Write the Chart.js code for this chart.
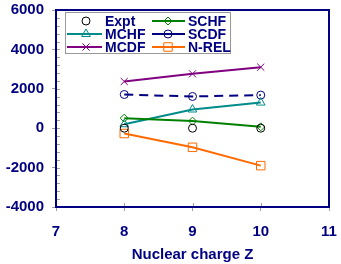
<!DOCTYPE html>
<html>
<head>
<meta charset="utf-8">
<script src="https://cdn.jsdelivr.net/npm/chart.js@4"></script>
<style>
  body { margin: 0; background: #fff; }
  #wrap { width: 341px; height: 264px; }
</style>
</head>
<body>
<div id="wrap"><canvas id="chart" width="341" height="264"></canvas></div>
<script>
// ----------------------------
// DATA
// ----------------------------
const zValues = [8, 9, 10];
const expt = [0, 0, 0];
const mchf = [200, 950, 1300];
const mcdf = [2370, 2760, 3100];
const schf = [510, 360, 70];
const scdf = [1710, 1610, 1680];
const nrel = [-270, -970, -1900];

const yTicks = [-4000, -2000, 0, 2000, 4000, 6000];
const xTicks = [7, 8, 9, 10, 11];

const NAVY = "#000080";
const FONT = "'Liberation Sans', Arial, sans-serif";

function pts(values) {
    return zValues.map((z, i) => ({ x: z, y: values[i] }));
}

function series(label, values, color, style, radius, extra) {
    return Object.assign({
        label: label,
        data: pts(values),
        borderColor: color,
        backgroundColor: "transparent",
        pointBorderColor: color,
        pointBackgroundColor: "transparent",
        pointStyle: style,
        pointRadius: radius,
        pointHoverRadius: radius,
        pointBorderWidth: 1,
        borderWidth: 2,
        tension: 0
    }, extra || {});
}

// legend order: two columns, filled row by row
const datasets = [
    series("Expt", expt, "#000000", "circle", 4, { showLine: false }),
    series("SCHF", schf, "#008000", "rectRot", 4),
    series("MCHF", mchf, "#008b8b", "triangle", 5),
    series("SCDF", scdf, NAVY, "circle", 4, { borderDash: [9, 6] }),
    series("MCDF", mcdf, "#800080", "crossRot", 5),
    series("N-REL", nrel, "#ff6a00", "rect", 6)
];

// ----------------------------
// FRAME, MINOR TICKS, LEGEND
// ----------------------------
const decorations = {
    id: "decorations",
    beforeDatasetsDraw(chart) {
        const ctx = chart.ctx;
        const a = chart.chartArea;
        const xs = chart.scales.x;
        const ys = chart.scales.y;
        ctx.save();
        ctx.strokeStyle = "#a0a0a0";
        ctx.lineWidth = 1;
        ctx.beginPath();
        for (let v = -4000; v <= 6000; v += 400) {
            const y = Math.round(ys.getPixelForValue(v)) + 0.5;
            ctx.moveTo(a.left, y);
            ctx.lineTo(a.left + 4, y);
        }
        xTicks.forEach(v => {
            const x = Math.round(xs.getPixelForValue(v)) + 0.5;
            ctx.moveTo(x, a.bottom);
            ctx.lineTo(x, a.bottom - 4);
        });
        ctx.stroke();
        ctx.strokeStyle = NAVY;
        ctx.lineWidth = 2;
        ctx.strokeRect(a.left, a.top, a.right - a.left, a.bottom - a.top);
        ctx.restore();
    },
    afterDraw(chart) {
        const ctx = chart.ctx;
        ctx.save();
        ctx.fillStyle = "#fff";
        ctx.fillRect(65.5, 12.5, 165, 41);
        ctx.strokeStyle = "#999";
        ctx.lineWidth = 1;
        ctx.strokeRect(65.5, 12.5, 165, 41);

        const cols = [{ x0: 67, x1: 102, m: 86, t: 105 }, { x0: 152, x1: 185, m: 168, t: 188 }];
        const rows = [21, 34, 47];
        ctx.font = "bold 14px " + FONT;
        ctx.textBaseline = "middle";
        datasets.forEach((ds, i) => {
            const c = cols[i % 2];
            const y = rows[Math.floor(i / 2)];
            if (ds.showLine !== false) {
                ctx.strokeStyle = ds.borderColor;
                ctx.lineWidth = 2;
                ctx.beginPath();
                ctx.moveTo(c.x0, y);
                ctx.lineTo(c.x1, y);
                ctx.stroke();
            }
            ctx.strokeStyle = ds.pointBorderColor;
            ctx.fillStyle = "rgba(0,0,0,0)";
            ctx.lineWidth = 1;
            Chart.helpers.drawPoint(ctx, {
                pointStyle: ds.pointStyle,
                radius: ds.pointRadius,
                borderWidth: 1,
                rotation: 0
            }, c.m, y);
            ctx.fillStyle = NAVY;
            ctx.fillText(ds.label, c.t, y + 1);
        });
        ctx.restore();
    }
};

new Chart(document.getElementById("chart").getContext("2d"), {
    type: "line",
    data: { datasets: datasets },
    plugins: [decorations],
    options: {
        responsive: false,
        animation: false,
        layout: { padding: { top: 10, right: 12, left: 0, bottom: 0 } },
        plugins: {
            legend: { display: false },
            tooltip: { enabled: false }
        },
        scales: {
            x: {
                type: "linear",
                min: 7,
                max: 11,
                afterBuildTicks: s => { s.ticks = xTicks.map(v => ({ value: v })); },
                afterFit: s => { s.height = 57; s.paddingLeft = 0; s.paddingRight = 0; },
                ticks: {
                    color: NAVY,
                    font: { family: FONT, size: 15, weight: "bold" },
                    padding: 12,
                    callback: v => String(v)
                },
                grid: { drawOnChartArea: false, drawTicks: true, tickLength: 4, color: "#a0a0a0" },
                border: { display: false },
                title: {
                    display: true,
                    text: "Nuclear charge Z",
                    color: NAVY,
                    font: { family: FONT, size: 15, weight: "bold" },
                    padding: { top: 4, bottom: 0 }
                }
            },
            y: {
                min: -4000,
                max: 6000,
                afterBuildTicks: s => { s.ticks = yTicks.map(v => ({ value: v })); },
                afterFit: s => { s.width = 56; s.paddingTop = 0; s.paddingBottom = 0; },
                ticks: {
                    color: NAVY,
                    font: { family: FONT, size: 15, weight: "bold" },
                    padding: 8,
                    callback: v => String(v)
                },
                grid: { drawOnChartArea: false, drawTicks: true, tickLength: 4, color: "#a0a0a0" },
                border: { display: false }
            }
        }
    }
});
</script>
</body>
</html>
